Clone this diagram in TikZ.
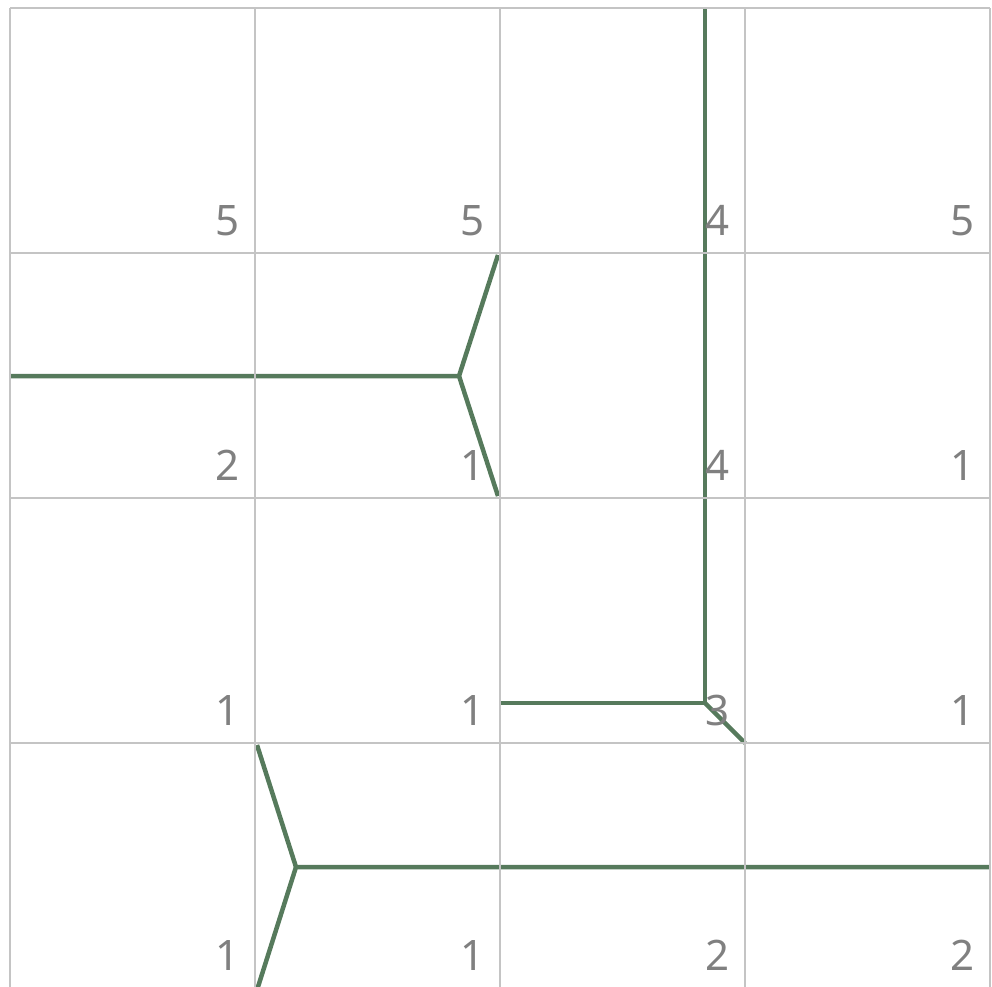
\documentclass[tikz,border=0pt]{standalone}
\usepackage{fontspec}
\setmainfont{Noto Sans}
\definecolor{gridgrey}{HTML}{C4C4C4}
\definecolor{pathgreen}{HTML}{567A5C}
\definecolor{numgrey}{HTML}{808080}
\begin{document}
\begin{tikzpicture}[x=1pt,y=-1pt,
  gridline/.style={draw=gridgrey,line width=1.8pt},
  route/.style={draw=pathgreen,line width=4.5pt,line join=miter},
  cellnum/.style={text=numgrey,font=\fontsize{42}{42}\selectfont,inner sep=0pt,anchor=base east}]
\useasboundingbox (0,0) rectangle (992,986);
\clip (0,0) rectangle (992,986);
% route coordinates
\coordinate (a1) at (10,376);
\coordinate (a2) at (459,376);
\coordinate (a3) at (498,255);
\coordinate (a4) at (498,496);
\coordinate (b1) at (705,8);
\coordinate (b2) at (705,703);
\coordinate (b3) at (501,703);
\coordinate (b4) at (745,743);
\coordinate (c1) at (990,867);
\coordinate (c2) at (296,867);
\coordinate (c3) at (257,745);
\coordinate (c4) at (257,990);
% routes
\draw[route] (a1) -- (a2) -- (a3);
\draw[route] (a2) -- (a4);
\draw[route] (b1) -- (b2) -- (b3);
\draw[route] (b2) -- (b4);
\draw[route] (c1) -- (c2) -- (c3);
\draw[route] (c2) -- (c4);
% grid
\foreach \i in {0,...,4}{
  \draw[gridline] ({10+245*\i},8) -- ({10+245*\i},988);
  \draw[gridline] (10,{8+245*\i}) -- (990,{8+245*\i});
}
% numbers
\foreach \r/\row in {0/{5,5,4,5},1/{2,1,4,1},2/{1,1,3,1},3/{1,1,2,2}}{
  \foreach \v [count=\c from 0] in \row{
    \node[cellnum] (n\r\c) at ({10+245*(\c+1)-15},{8+245*(\r+1)-18}) {\v};
  }
}
\end{tikzpicture}
\end{document}
